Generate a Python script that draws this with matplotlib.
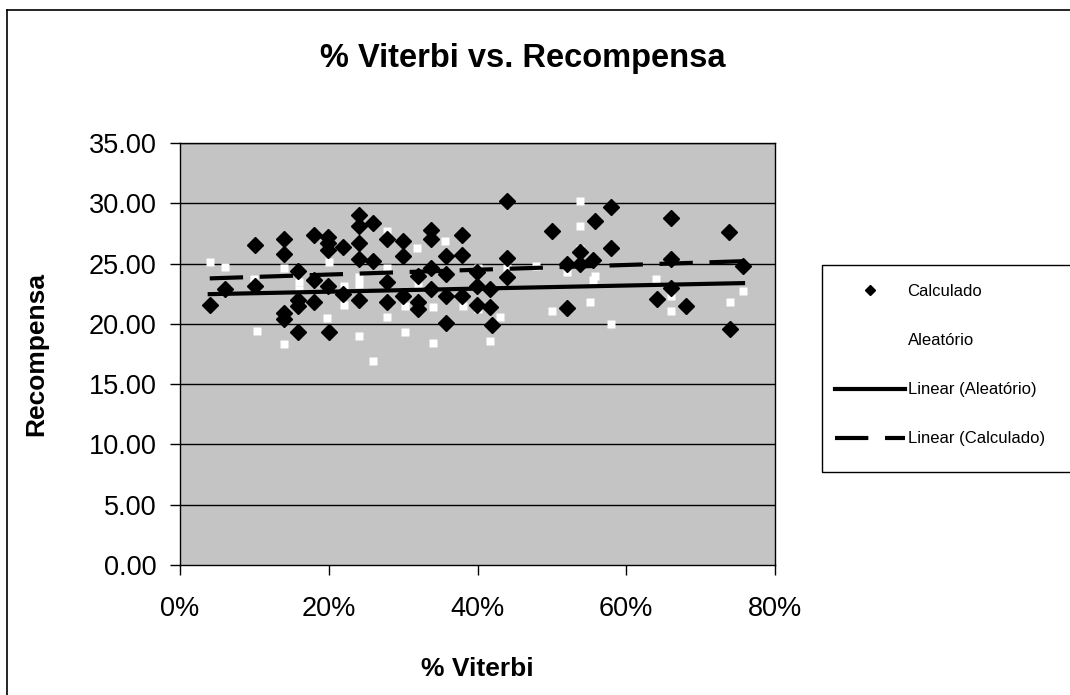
import numpy as np
import matplotlib
matplotlib.use("Agg")
import matplotlib.pyplot as plt
from matplotlib.lines import Line2D
from matplotlib.patches import Rectangle

plt.rcParams['font.family'] = ['Liberation Sans', 'DejaVu Sans']

# Calculado: % Viterbi (fraction) and recompensa
calc_x = np.array([4.1, 6.0, 10.1, 10.1, 14.0, 14.0, 14.0, 14.0, 15.9, 15.9, 15.9, 15.9,
                   18.0, 18.0, 18.0, 19.9, 19.9, 19.9, 19.9, 20.0, 21.9, 21.9, 24.0, 24.0,
                   24.0, 24.0, 24.0, 26.0, 26.0, 27.8, 27.8, 27.8, 30.0, 30.0, 30.0, 32.0,
                   32.0, 32.0, 33.8, 33.8, 33.8, 33.8, 35.8, 35.8, 35.8, 35.8, 37.9, 37.9,
                   37.9, 39.9, 39.9, 39.9, 41.7, 41.7, 41.9, 43.9, 43.9, 43.9, 50.0, 52.0,
                   52.0, 53.8, 53.8, 55.5, 55.8, 58.0, 58.0, 64.2, 66.0, 66.0, 66.0, 68.0,
                   73.8, 73.9, 75.7]) / 100
calc_y = np.array([21.6, 22.9, 26.5, 23.1, 27.0, 25.8, 20.9, 20.4, 24.4, 22.0, 21.5, 19.3,
                   27.4, 23.6, 21.8, 27.2, 26.7, 26.1, 23.1, 19.3, 26.4, 22.5, 29.0, 28.1,
                   26.7, 25.4, 22.0, 28.4, 25.2, 27.0, 23.5, 21.8, 26.9, 25.6, 22.3, 24.0,
                   21.8, 21.2, 27.8, 27.0, 24.6, 22.9, 24.1, 25.6, 22.3, 20.1, 27.4, 25.7,
                   22.3, 23.1, 24.3, 21.6, 22.9, 21.4, 19.9, 30.2, 25.5, 23.9, 27.7, 25.0,
                   21.3, 26.0, 25.0, 25.3, 28.5, 29.7, 26.3, 22.1, 28.8, 25.4, 23.0, 21.5,
                   27.6, 19.6, 24.8])

# Aleatorio: white markers
alea_x = np.array([4.0, 6.0, 10.0, 10.0, 10.3, 14.0, 14.0, 16.0, 16.0, 19.7, 20.0, 22.0,
                   22.0, 24.0, 24.0, 24.1, 26.0, 27.8, 27.8, 27.8, 30.2, 30.2, 31.8, 31.8,
                   32.0, 34.0, 34.0, 35.6, 38.0, 40.0, 40.0, 41.7, 43.0, 44.0, 44.0, 47.9,
                   50.0, 52.0, 53.8, 53.8, 53.8, 55.1, 55.5, 55.8, 58.0, 64.0, 66.0, 66.0,
                   74.0, 75.7]) / 100
alea_y = np.array([25.1, 24.7, 23.7, 23.4, 19.4, 24.6, 18.3, 23.5, 22.8, 20.5, 25.1, 23.1,
                   21.6, 23.9, 23.3, 19.0, 16.9, 27.7, 24.6, 20.6, 21.5, 19.3, 26.3, 23.9,
                   23.3, 21.4, 18.4, 26.9, 21.5, 24.6, 21.2, 18.6, 20.6, 24.6, 24.0, 24.8,
                   21.1, 24.3, 26.2, 28.1, 30.2, 21.8, 23.6, 24.0, 20.0, 23.7, 21.1, 22.3,
                   21.8, 22.7])

y_ticks = [0, 5, 10, 15, 20, 25, 30, 35]
x_ticks = [0, 0.2, 0.4, 0.6, 0.8]

fig = plt.figure(figsize=(10.7, 6.95), dpi=100)
ax = fig.add_axes([180 / 1070, 1 - 565 / 695, 595 / 1070, 422 / 695])
ax.set_facecolor('#c4c4c4')

for yt in y_ticks[1:]:
    ax.axhline(yt, color='black', lw=1.0, zorder=1)

ax.plot(alea_x, alea_y, 's', color='white', ms=5.5, mec='none', zorder=3, label='Aleatório')
ax.plot(calc_x, calc_y, 'D', color='black', ms=8, mec='black', zorder=4, label='Calculado')

# trend lines (least squares, like Excel)
xs = np.array([min(alea_x.min(), calc_x.min()), max(alea_x.max(), calc_x.max())])
pa = np.polyfit(alea_x, alea_y, 1)
pc = np.polyfit(calc_x, calc_y, 1)
ax.plot(xs, np.polyval(pa, xs), '-', color='black', lw=3, zorder=5, label='Linear (Aleatório)')
ax.plot(xs, np.polyval(pc, xs), '--', color='black', lw=3, dashes=(8, 4), zorder=5,
        label='Linear (Calculado)')

ax.set_xlim(0, 0.8)
ax.set_ylim(0, 35)
ax.set_xticks(x_ticks)
ax.set_xticklabels([f'{int(round(t * 100))}%' for t in x_ticks])
ax.set_yticks(y_ticks)
ax.set_yticklabels([f'{t:.2f}' for t in y_ticks])
ax.tick_params(axis='both', labelsize=19.5, direction='out', length=7, width=1, color='black')
ax.tick_params(axis='y', pad=10)
ax.tick_params(axis='x', pad=15)
for s in ax.spines.values():
    s.set_color('black')
    s.set_linewidth(1.0)

ax.set_ylabel('Recompensa', fontsize=19, fontweight='bold')
ax.yaxis.set_label_coords((48 - 180) / 595, 0.5)
ax.set_xlabel('% Viterbi', fontsize=19, fontweight='bold')
ax.xaxis.set_label_coords(0.5, -(657 - 565) / 422)

fig.text(523 / 1070, 1 - 58 / 695, '% Viterbi vs. Recompensa', fontsize=23.5, fontweight='bold',
         ha='center', va='center')

# legend
handles, labels = ax.get_legend_handles_labels()
order = [1, 0, 2, 3]
leg = ax.legend([handles[i] for i in order], [labels[i] for i in order],
                loc='upper left', bbox_to_anchor=(835 / 1070, 1 - 284 / 695),
                bbox_transform=fig.transFigure, frameon=False, fontsize=12,
                handlelength=4.2, handletextpad=0.15, labelspacing=2.05,
                borderpad=0, borderaxespad=0, markerscale=0.7)
fig.patches.append(Rectangle((822 / 1070, 1 - 472 / 695), 0.3, (472 - 265) / 695,
                             transform=fig.transFigure, fill=False, edgecolor='black', lw=1))

# outer chart border
fig.lines.append(Line2D([7 / 1070, 7 / 1070], [0, 1 - 10 / 695], transform=fig.transFigure,
                        color='black', lw=1.2))
fig.lines.append(Line2D([7 / 1070, 1.0], [1 - 10 / 695, 1 - 10 / 695], transform=fig.transFigure,
                        color='black', lw=1.2))

fig.savefig('out.png', dpi=100)
